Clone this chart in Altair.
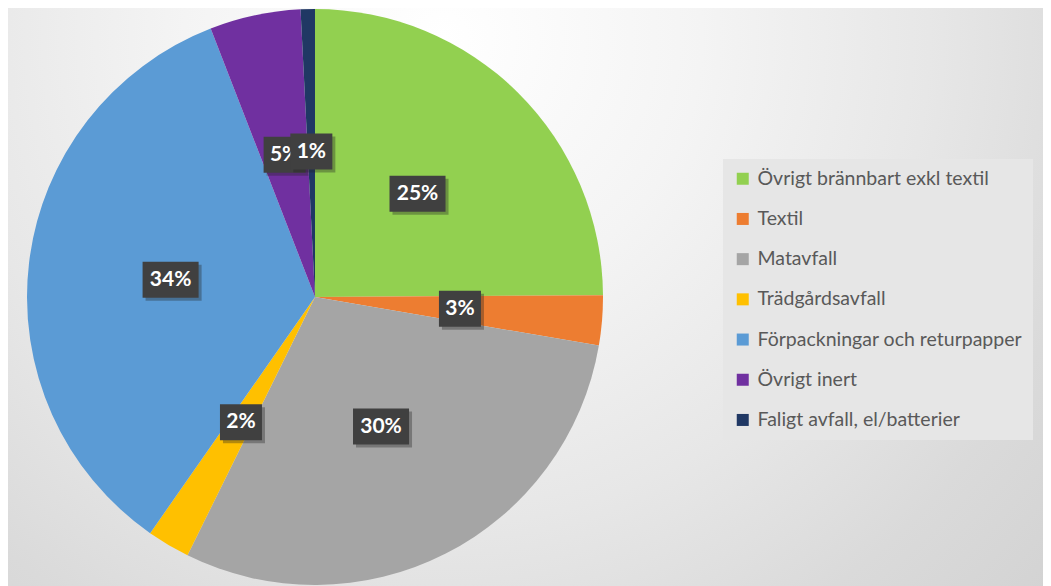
import altair as alt
import pandas as pd

categories = ["Övrigt brännbart exkl textil", "Textil", "Matavfall", "Trädgårdsavfall",
              "Förpackningar och returpapper", "Övrigt inert", "Faligt avfall, el/batterier"]
shares = [24.9, 2.8, 29.6, 2.4, 34.4, 5.1, 0.8]
colors = ["#92d050", "#ed7d31", "#a5a5a5", "#ffc000", "#5b9bd5", "#7030a0", "#203864"]

df = pd.DataFrame({"cat": categories, "share": shares, "idx": list(range(len(categories)))})
df["label"] = [f"{round(v)}%" for v in shares]
df["kind"] = ["w" if len(l) > 2 else "n" for l in df["label"]]

W, H = 1035, 578
CX, CY, R = 307, 289, 288

bg = alt.Chart(df).mark_rect(
    color=alt.RadialGradient(
        gradient="radial",
        x1=0.42, y1=0.25, r1=0, x2=0.42, y2=0.25, r2=1.0,
        stops=[alt.GradientStop(color="#ffffff", offset=0),
               alt.GradientStop(color="#f4f4f4", offset=0.25),
               alt.GradientStop(color="#e7e7e7", offset=0.47),
               alt.GradientStop(color="#dadada", offset=0.65),
               alt.GradientStop(color="#d0d0d0", offset=0.85),
               alt.GradientStop(color="#c4c4c4", offset=1.0)],
    )
).encode(x=alt.value(0), x2=alt.value(W), y=alt.value(0), y2=alt.value(H))

arcs = alt.Chart(df).mark_arc(outerRadius=R, x=CX, y=CY, strokeWidth=0).encode(
    theta=alt.Theta("share:Q", stack=True),
    order=alt.Order("idx:Q"),
    color=alt.Color("cat:N", scale=alt.Scale(domain=categories, range=colors),
                    legend=alt.Legend(title=None, orient="none", legendX=715, legendY=151,
                                      fillColor="#e6e6e6", padding=10,
                                      labelFont="Lato", labelFontSize=19.5, labelColor="#595959",
                                      symbolType="square", symbolSize=144, symbolStrokeWidth=0,
                                      rowPadding=19.2, labelOffset=5, labelLimit=400)),
)

base = alt.Chart(df).transform_window(
    cum="sum(share)", sort=[alt.SortField("idx")], frame=[None, 0]
).transform_joinaggregate(total="sum(share)").transform_calculate(
    mid="(datum.cum - datum.share/2)/datum.total*2*PI",
    lx="0.505*sin(datum.mid)",
    ly="-0.505*cos(datum.mid)",
)

X = alt.X("lx:Q", scale=alt.Scale(domain=[-1, 1], range=[CX - R, CX + R]), axis=None)
Y = alt.Y("ly:Q", scale=alt.Scale(domain=[-1, 1], range=[CY - R, CY + R]), axis=None)
S = alt.Shape("kind:N", scale=alt.Scale(domain=["w", "n"],
                                        range=["M-1.556,-1H1.556V1H-1.556Z", "M-1.167,-1H1.167V1H-1.167Z"]),
              legend=None)

def layers(cond):
    b = base.transform_filter(cond)
    sh = b.mark_point(filled=True, color="#222222", opacity=0.35, size=1296, strokeWidth=0,
                      xOffset=3, yOffset=3).encode(x=X, y=Y, shape=S)
    bx = b.mark_point(filled=True, color="#404040", opacity=1, size=1296, strokeWidth=0).encode(
        x=X, y=Y, shape=S)
    tx = b.mark_text(font="Lato", fontWeight="bold", fontSize=21, color="white",
                     align="center", baseline="middle").encode(x=X, y=Y, text="label:N")
    return [sh, bx, tx]

chart = alt.layer(
    bg, arcs, *layers("datum.idx < 6"), *layers("datum.idx == 6")
).properties(width=W, height=H, padding=0, autosize="none").configure_view(stroke=None)

chart.save("out.html", embed_options={"renderer": "svg", "actions": False})
